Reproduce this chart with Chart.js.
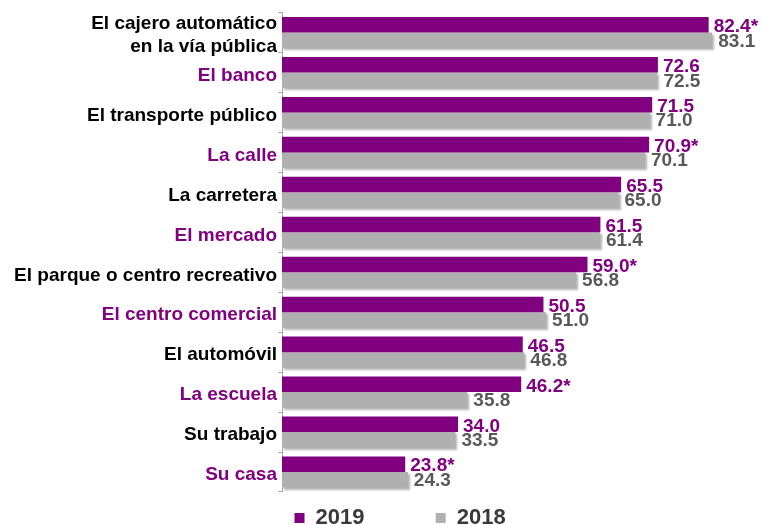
<!DOCTYPE html>
<html>
<head>
<meta charset="utf-8">
<script src="https://cdn.jsdelivr.net/npm/chart.js@4/dist/chart.umd.min.js"></script>
<style>
  html, body { margin: 0; padding: 0; background: #fff; }
  #wrap { width: 762px; height: 525px; }
</style>
</head>
<body>
<div id="wrap"><canvas id="mycanvas" width="762" height="525"></canvas></div>
<script>
// data
var lugares = [
    ["El cajero automático", "en la vía pública"],
    "El banco",
    "El transporte público",
    "La calle",
    "La carretera",
    "El mercado",
    "El parque o centro recreativo",
    "El centro comercial",
    "El automóvil",
    "La escuela",
    "Su trabajo",
    "Su casa"
];
var valores2019 = [82.4, 72.6, 71.5, 70.9, 65.5, 61.5, 59.0, 50.5, 46.5, 46.2, 34.0, 23.8];
var valores2018 = [83.1, 72.5, 71.0, 70.1, 65.0, 61.4, 56.8, 51.0, 46.8, 35.8, 33.5, 24.3];
// asterisk = significant change
var signif2019 = [true, false, false, true, false, false, true, false, false, true, false, true];

var morado = '#800080';
var gris = '#b0b0b0';
var fuente = '"Liberation Sans", Arial, sans-serif';

// small plugin: shadow on the grey bars + value labels at bar ends
var etiquetas = {
    id: 'etiquetas',
    beforeDatasetDraw: function(chart, args) {
        if (args.index === 1) {
            var c = chart.ctx;
            c.save();
            c.shadowColor = 'rgba(0,0,0,0.3)';
            c.shadowOffsetX = 2;
            c.shadowOffsetY = 2;
            c.shadowBlur = 2;
        }
    },
    afterDatasetDraw: function(chart, args) {
        if (args.index === 1) chart.ctx.restore();
    },
    afterDatasetsDraw: function(chart) {
        var c = chart.ctx;
        c.save();
        c.font = 'bold 19px ' + fuente;
        c.textAlign = 'left';
        c.textBaseline = 'middle';
        chart.data.datasets.forEach(function(ds, i) {
            var meta = chart.getDatasetMeta(i);
            meta.data.forEach(function(bar, j) {
                var txt = ds.data[j].toFixed(1);
                if (i === 0 && signif2019[j]) txt += '*';
                c.fillStyle = i === 0 ? morado : '#595959';
                c.fillText(txt, bar.x + (i === 0 ? 5 : 6), bar.y + (i === 0 ? 2 : 1));
            });
        });
        c.restore();
    }
};

var ctx = document.getElementById('mycanvas');
var grafica = new Chart(ctx, {
    type: 'bar',
    data: {
        labels: lugares,
        datasets: [
            { label: '2019', data: valores2019, backgroundColor: morado },
            { label: '2018', data: valores2018, backgroundColor: gris }
        ]
    },
    options: {
        indexAxis: 'y',
        responsive: false,
        animation: false,
        layout: { padding: { top: 7, right: 14, left: 0, bottom: 0 } },
        datasets: { bar: { categoryPercentage: 0.78, barPercentage: 1.0 } },
        scales: {
            x: {
                min: 0, max: 90,
                afterFit: function(scale) { scale.height = 11; },
                border: { display: false },
                grid: { display: false },
                ticks: { display: false }
            },
            y: {
                afterFit: function(scale) { scale.width = 282; },
                border: { display: true, color: '#a6a6a6', width: 1 },
                grid: { drawOnChartArea: false, tickLength: 4, color: '#a6a6a6', offset: true },
                ticks: {
                    autoSkip: false,
                    padding: 1,
                    labelOffset: 3,
                    font: { family: fuente, size: 19, weight: 'bold', lineHeight: 1.22 },
                    color: function(c) { return c.index % 2 ? morado : '#000'; }
                }
            }
        },
        plugins: {
            tooltip: { enabled: false },
            legend: {
                position: 'bottom',
                align: 'end',
                maxHeight: 22,
                labels: {
                    boxWidth: 10,
                    boxHeight: 10,
                    padding: 4,
                    color: '#3a3a3a',
                    font: { family: fuente, size: 22, weight: 'bold' },
                    generateLabels: function(chart) {
                        var items = Chart.defaults.plugins.legend.labels.generateLabels(chart);
                        items.forEach(function(it) { it.lineWidth = 0; });
                        // trailing spaces set the gap and push the pair to its place
                        items[0].text = items[0].text + ' '.repeat(11);
                        items[1].text = items[1].text + ' '.repeat(39);
                        return items;
                    }
                }
            }
        }
    },
    plugins: [etiquetas]
});
</script>
</body>
</html>
